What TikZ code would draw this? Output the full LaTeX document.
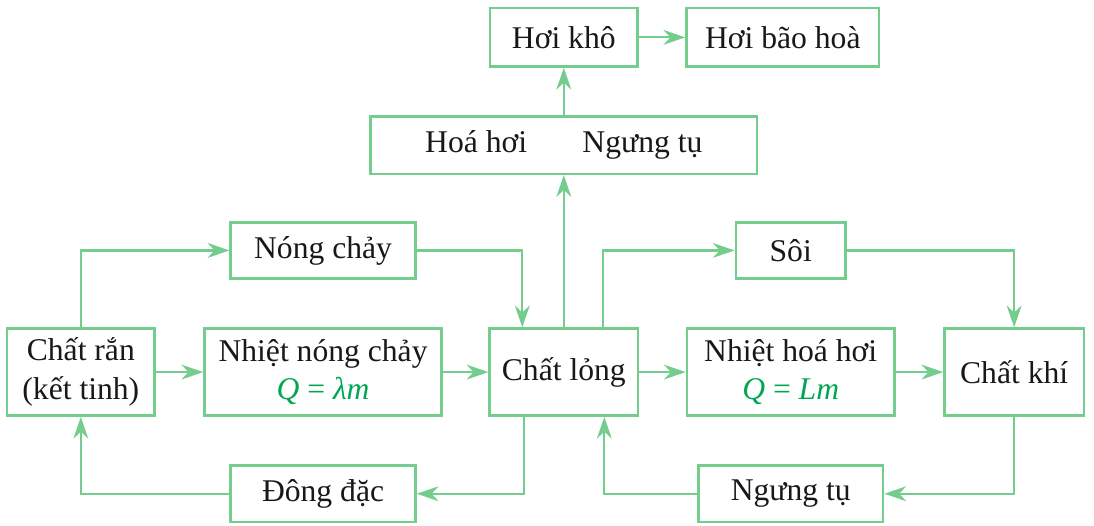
\documentclass[tikz,border=0pt]{standalone}
\usepackage{fontspec}
\setmainfont{Liberation Serif}
\usepackage{xcolor}
\usetikzlibrary{positioning, arrows.meta, calc}
\definecolor{boxgreen}{HTML}{74CD8C}
\definecolor{formulagreen}{HTML}{00A651}
\definecolor{inkgray}{HTML}{1A1718}

\tikzset{
  statebox/.style={draw=boxgreen, line width=1.3pt, text=inkgray, inner sep=2pt,
    align=center, minimum height=44pt},
  procbox/.style={draw=boxgreen, line width=1.3pt, text=inkgray, inner sep=2pt,
    align=center, minimum height=28.5pt},
  flow/.style={draw=boxgreen, line width=1.1pt, -{Stealth[length=11pt, width=7.5pt, inset=3.5pt]}}
}
\newcommand{\formula}[1]{{\color{formulagreen}#1}}

\begin{document}
\begin{tikzpicture}[font=\fontsize{16}{19.5}\selectfont]
  % middle row
  \node[statebox, minimum width=74.5pt] (ran) {Chất rắn\\(kết tinh)};
  \node[statebox, minimum width=120pt, right=24pt of ran] (nnc)
    {Nhiệt nóng chảy\\\formula{\textit{Q}~=~\textit{λm}}};
  \node[statebox, minimum width=75pt, right=23pt of nnc] (long) {Chất lỏng};
  \node[statebox, minimum width=105pt, right=23.5pt of long] (nhh)
    {Nhiệt hoá hơi\\\formula{\textit{Q}~=~\textit{Lm}}};
  \node[statebox, minimum width=70.5pt, right=24pt of nhh] (khi) {Chất khí};
  % processes above and below
  \node[procbox, minimum width=93.5pt, above=24pt of nnc] (nongchay) {Nóng chảy};
  \node[procbox, minimum width=93.5pt, below=24pt of nnc] (dongdac) {Đông đặc};
  \node[procbox, minimum width=55.5pt, above=24pt of nhh] (soi) {Sôi};
  \node[procbox, minimum width=93.5pt, below=24pt of nhh] (ngungtu) {Ngưng tụ};
  % vapour branch
  \node[procbox, minimum width=195.5pt, minimum height=29pt, above=77pt of long] (hoahoi)
    {Hoá hơi\hspace{28pt}Ngưng tụ};
  \node[procbox, minimum width=74.5pt, minimum height=29.5pt, above=24pt of hoahoi] (hoikho) {Hơi khô};
  \node[procbox, minimum width=97.5pt, minimum height=29.5pt, right=23.5pt of hoikho] (baohoa) {Hơi bão hoà};

  \draw[flow] (ran) -- (nnc);
  \draw[flow] (nnc) -- (long);
  \draw[flow] (long) -- (nhh);
  \draw[flow] (nhh) -- (khi);
  \draw[flow] (ran.north) |- (nongchay.west);
  \draw[flow] (nongchay.east) -| ([xshift=-21pt]long.north);
  \draw[flow] ([xshift=20pt]long.north) |- (soi.west);
  \draw[flow] (soi.east) -| (khi.north);
  \draw[flow] (khi.south) |- (ngungtu.east);
  \draw[flow] (ngungtu.west) -| ([xshift=20.5pt]long.south);
  \draw[flow] ([xshift=-20pt]long.south) |- (dongdac.east);
  \draw[flow] (dongdac.west) -| (ran.south);
  \draw[flow] (long.north) -- (hoahoi.south);
  \draw[flow] (hoahoi) -- (hoikho);
  \draw[flow] (hoikho) -- (baohoa);

  \path[use as bounding box] ($(ran.west |- hoikho.north)+(-3pt,3.5pt)$)
    rectangle ($(khi.east |- dongdac.south)+(4.5pt,-1pt)$);
\end{tikzpicture}
\end{document}
